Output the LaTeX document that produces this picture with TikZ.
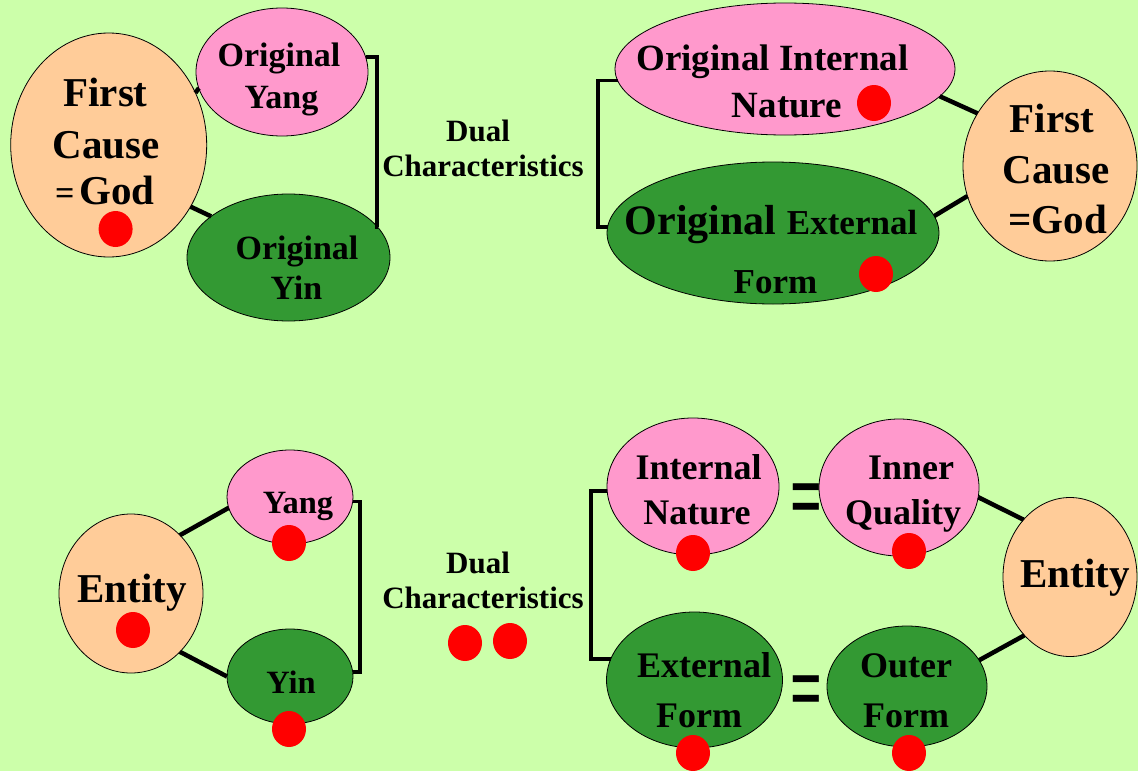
\documentclass[tikz,border=0pt]{standalone}
\usepackage{fontspec}
\setmainfont{Liberation Serif}
\usetikzlibrary{shapes.geometric}
\definecolor{bgc}{HTML}{CCFFAA}
\definecolor{pinkc}{HTML}{FF99CC}
\definecolor{greenc}{HTML}{339933}
\definecolor{peachc}{HTML}{FFCC99}
\newcommand\myfs[1]{\fontsize{#1}{#1}\selectfont}
\tikzset{
  oval/.style={ellipse, draw=black, line width=0.8pt, inner sep=0pt, outer sep=0pt},
  pinkoval/.style={oval, fill=pinkc},
  greenoval/.style={oval, fill=greenc},
  peachoval/.style={oval, fill=peachc},
  reddot/.style={ellipse, fill=red, minimum width=34pt, minimum height=36pt, inner sep=0pt},
  lbl/.style={anchor=base, inner sep=0pt, font=\bfseries},
  conn/.style={line width=4.5pt},
  brk/.style={line width=3.5pt},
  eqsign/.style={inner sep=0pt, font=\bfseries},
}
\begin{document}
\begin{tikzpicture}[x=1pt,y=-1pt]
\fill[bgc] (0,0) rectangle (1138,771);
\useasboundingbox (0,0) rectangle (1138,771);

% ---------- top left ----------
\node[peachoval, minimum width=196pt, minimum height=224pt] (fcA) at (108.7,145) {};
\node[pinkoval, minimum width=172pt, minimum height=128pt] (yangA) at (282,72) {};
\node[greenoval, minimum width=203pt, minimum height=127pt] (yinA) at (288.5,257.5) {};
\draw[conn] (fcA.31.6) -- (yangA.191);
\draw[conn] (fcA.-37.3) -- (yinA.152.7);
\coordinate (bxA) at (377,140);
\draw[brk] (yangA.10) -| (bxA) |- (yinA.19.4);

\node[lbl] (tA1) at (105.5,106.7) {\myfs{41}First};
\node[lbl] (tA2) at (106,158) {\myfs{41}Cause};
\node[lbl] (tA3) at (105,204) {\myfs{34}=\hspace{5pt}\myfs{41}God};
\node[lbl] (tA4) at (279,66.7) {\myfs{34}Original};
\node[lbl] (tA5) at (281.5,108) {\myfs{34}Yang};
\node[lbl] (tA6) at (297,259) {\myfs{34}Original};
\node[lbl] (tA7) at (296.5,299) {\myfs{34}Yin};
\node[lbl] (tA8) at (478,141.7) {\myfs{31}Dual};
\node[lbl] (tA9) at (483,176.7) {\myfs{31}Characteristics};
\node[reddot] (dA1) at (115.6,229) {};

% ---------- top right ----------
\node[pinkoval, minimum width=340pt, minimum height=132pt] (inB) at (785,69) {};
\node[greenoval, minimum width=332pt, minimum height=142pt] (efB) at (773,233) {};
\node[peachoval, minimum width=174pt, minimum height=190pt] (fcB) at (1050,166) {};
\draw[conn] (inB.-10.3) -- (fcB.144.7);
\draw[conn] (efB.6.3) -- (fcB.200.1);
\coordinate (bxB) at (598,155);
\draw[brk] (inB.184.1) -| (bxB) |- (efB.178.6);

\node[lbl] (tB1) at (772.5,70) {\myfs{37}Original Internal};
\node[lbl] (tB2) at (787,117) {\myfs{37}Nature};
\node[lbl] (tB3) at (771,234) {\myfs{42}Original \myfs{35}External};
\node[lbl] (tB4) at (775.5,293) {\myfs{35}Form};
\node[lbl] (tB5) at (1052,132) {\myfs{41}First};
\node[lbl] (tB6) at (1056,183) {\myfs{41}Cause};
\node[lbl] (tB7) at (1057.5,233) {\myfs{41}=God};
\node[reddot] (dB1) at (874,103) {};
\node[reddot] (dB2) at (876,274) {};

% ---------- bottom left ----------
\node[peachoval, minimum width=144pt, minimum height=159pt] (entA) at (131,593.5) {};
\node[pinkoval, minimum width=126pt, minimum height=94pt] (yangC) at (290,497) {};
\node[greenoval, minimum width=126pt, minimum height=95pt] (yinC) at (290,676.5) {};
\draw[conn] (entA.50) -- (yangC.-170.8);
\draw[conn] (entA.-50) -- (yinC.180);
\coordinate (bxC) at (360,590);
\draw[brk] (yangC.-4.8) -| (bxC) |- (yinC.4.2);

\node[lbl] (tC1) at (132,602) {\myfs{41}Entity};
\node[lbl] (tC2) at (298,513) {\myfs{32.5}Yang};
\node[lbl] (tC3) at (291,693) {\myfs{32.5}Yin};
\node[lbl] (tC4) at (478,573) {\myfs{31}Dual};
\node[lbl] (tC5) at (483,608) {\myfs{31}Characteristics};
\node[reddot] (dC1) at (133,630) {};
\node[reddot] (dC2) at (289,543) {};
\node[reddot] (dC3) at (289,729) {};
\node[reddot] (dC4) at (465,643) {};
\node[reddot] (dC5) at (510,641) {};

% ---------- bottom right ----------
\node[pinkoval, minimum width=172pt, minimum height=137pt] (inD) at (693,486.5) {};
\node[greenoval, minimum width=176pt, minimum height=136pt] (efD) at (694.5,680) {};
\node[pinkoval, minimum width=160pt, minimum height=137pt] (iqD) at (899,487.5) {};
\node[greenoval, minimum width=160pt, minimum height=121pt] (ofD) at (907,686.5) {};
\node[peachoval, minimum width=134pt, minimum height=159pt] (entB) at (1070,577) {};
\draw[conn] (iqD.-7.6) -- (entB.129.3);
\draw[conn] (ofD.20) -- (entB.232.2);
\coordinate (bxD) at (591,575);
\draw[brk] (inD.183) -| (bxD) |- (efD.166.6);

\node[eqsign] (eqD1) at (806.5,507) {\scalebox{1}[1.75]{\myfs{56}=}};
\node[eqsign] (eqD2) at (806.5,699) {\scalebox{1}[1.75]{\myfs{56}=}};

\node[lbl] (tD1) at (698.6,479) {\myfs{36}Internal};
\node[lbl] (tD2) at (697,524) {\myfs{36}Nature};
\node[lbl] (tD3) at (911,479) {\myfs{36}Inner};
\node[lbl] (tD4) at (903,524) {\myfs{36}Quality};
\node[lbl] (tD5) at (704,677) {\myfs{36}External};
\node[lbl] (tD6) at (699,727) {\myfs{36}Form};
\node[lbl] (tD7) at (906,677) {\myfs{36}Outer};
\node[lbl] (tD8) at (906,727) {\myfs{36}Form};
\node[lbl] (tD9) at (1075,587) {\myfs{41}Entity};
\node[reddot] (dD1) at (693,553) {};
\node[reddot] (dD2) at (909,551) {};
\node[reddot] (dD3) at (693,753) {};
\node[reddot] (dD4) at (909,753) {};
\end{tikzpicture}
\end{document}
